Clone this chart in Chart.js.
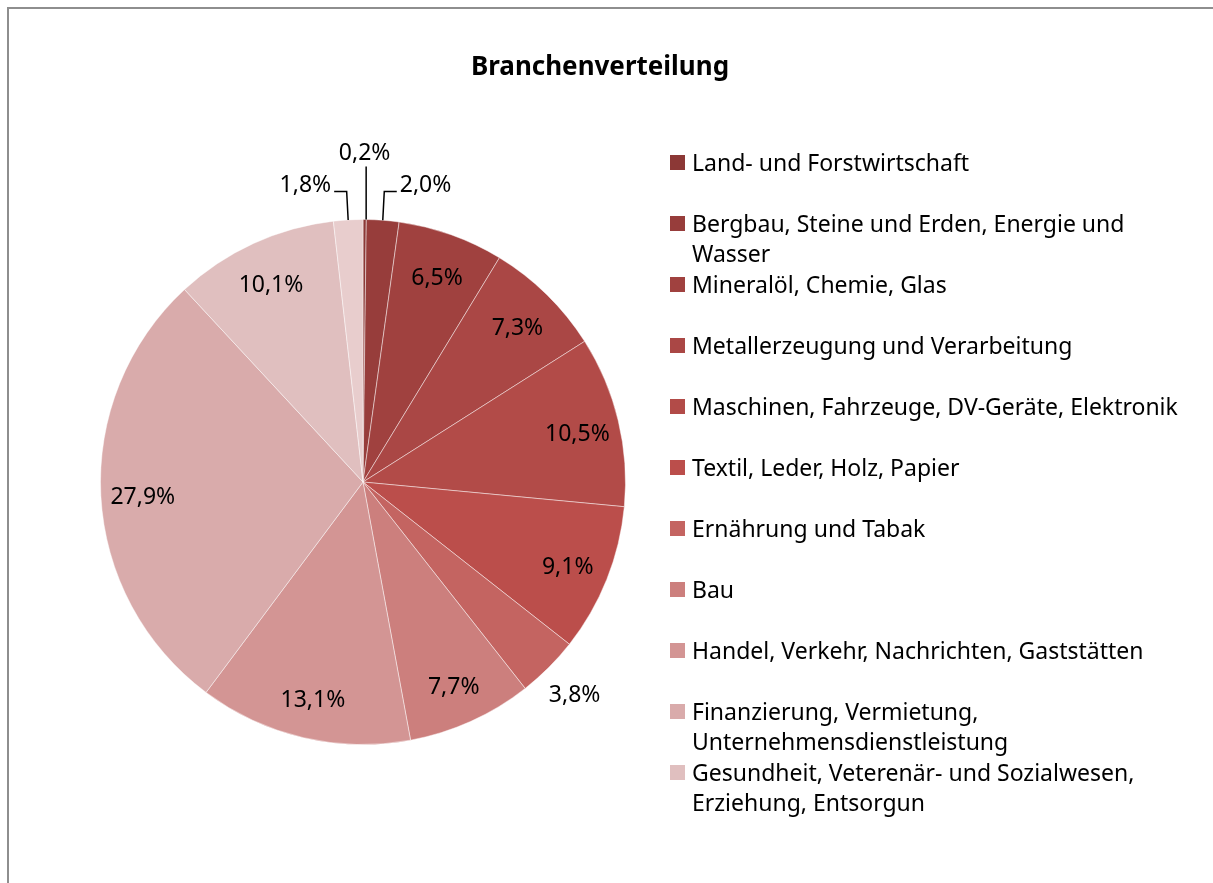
<!DOCTYPE html>
<html>
<head>
<meta charset="utf-8">
<script src="https://cdn.jsdelivr.net/npm/chart.js@4/dist/chart.umd.min.js"></script>
<style>
  html, body { margin: 0; padding: 0; background: #fff; }
  #wrap { position: relative; width: 1213px; height: 883px; overflow: hidden; }
  #frame { position: absolute; left: 7px; top: 7px; right: -10px; bottom: -10px;
           border-top: 2px solid #8e8e8e; border-left: 2px solid #8e8e8e; }
  #title { position: absolute; left: 0; width: 1200px; top: 47px; text-align: center;
           font-family: "Noto Sans", sans-serif; font-weight: bold; font-size: 26px; color: #000; line-height: 36px; }
  #legend { position: absolute; left: 670px; top: 147px; font-family: "Noto Sans", sans-serif;
            font-size: 23px; color: #000; }
  .item { position: relative; height: 61px; }
  .sw { position: absolute; left: 0; top: 8px; width: 15px; height: 15px; }
  .txt { position: absolute; left: 22px; top: 0; line-height: 30px; white-space: nowrap; }
  canvas { position: absolute; left: 0; top: 0; }
</style>
</head>
<body>
<div id="wrap">
  <canvas id="c" width="1213" height="883"></canvas>
  <div id="frame"></div>
  <div id="title"></div>
  <div id="legend"></div>
</div>
<script>
// ---- data ----
const chartTitle = "Branchenverteilung";
const categories = [
  "Land- und Forstwirtschaft",
  ["Bergbau, Steine und Erden, Energie und", "Wasser"],
  "Mineralöl, Chemie, Glas",
  "Metallerzeugung und Verarbeitung",
  "Maschinen, Fahrzeuge, DV-Geräte, Elektronik",
  "Textil, Leder, Holz, Papier",
  "Ernährung und Tabak",
  "Bau",
  "Handel, Verkehr, Nachrichten, Gaststätten",
  ["Finanzierung, Vermietung,", "Unternehmensdienstleistung"],
  ["Gesundheit, Veterenär- und Sozialwesen,", "Erziehung, Entsorgun"],
  "Sonstige"
];
const shares = [0.2, 2.0, 6.5, 7.3, 10.5, 9.1, 3.8, 7.7, 13.1, 27.9, 10.1, 1.8];
const sliceColors = ["#8c3836", "#973d3b", "#a0413f", "#aa4745", "#b24b48", "#bb4e4b",
                     "#c46461", "#cc7f7d", "#d39594", "#d9abab", "#e0bfbf", "#e8cdcd"];
const legendCount = 11; // the reference legend is cut off after 11 entries

// ---- title & legend (HTML) ----
document.getElementById('title').textContent = chartTitle;
const leg = document.getElementById('legend');
for (let i = 0; i < legendCount; i++) {
  const it = document.createElement('div'); it.className = 'item';
  const sw = document.createElement('div'); sw.className = 'sw'; sw.style.background = sliceColors[i];
  const tx = document.createElement('div'); tx.className = 'txt';
  const lines = Array.isArray(categories[i]) ? categories[i] : [categories[i]];
  lines.forEach((l, k) => { if (k) tx.appendChild(document.createElement('br')); tx.appendChild(document.createTextNode(l)); });
  it.appendChild(sw); it.appendChild(tx); leg.appendChild(it);
}

// ---- data labels plugin ----
const fmt = v => v.toFixed(1).replace('.', ',') + '%';
// label placement style per slice: 'in' (inside), 'out' (outside, no leader),
// 'up' (vertical leader), 'right'/'left' (elbow leader)
const labelMode = ['up', 'right', 'in', 'in', 'in', 'in', 'out', 'in', 'in', 'in', 'in', 'left'];
const labelPlugin = {
  id: 'pieLabels',
  afterDatasetsDraw(chart) {
    const ctx = chart.ctx;
    const meta = chart.getDatasetMeta(0);
    ctx.save();
    ctx.font = '23px "Noto Sans", sans-serif';
    ctx.fillStyle = '#000';
    ctx.strokeStyle = '#000';
    ctx.lineWidth = 1.5;
    ctx.textBaseline = 'middle';
    meta.data.forEach((arc, i) => {
      const {x, y, startAngle, endAngle, outerRadius: R} = arc.getProps(['x','y','startAngle','endAngle','outerRadius'], true);
      const mid = (startAngle + endAngle) / 2;
      const cs = Math.cos(mid), sn = Math.sin(mid);
      const txt = fmt(shares[i]);
      const mode = labelMode[i];
      if (mode === 'in') {
        ctx.textAlign = 'center';
        ctx.fillText(txt, x + cs * R * 0.84, y + sn * R * 0.84 + 4);
      } else if (mode === 'out') {
        ctx.textAlign = 'center';
        ctx.fillText(txt, x + cs * R * 1.14, y + sn * R * 1.14 + 2);
      } else if (mode === 'up') {
        const ex = x + cs * R, ey = y + sn * R;
        ctx.beginPath(); ctx.moveTo(ex + 1.5, ey); ctx.lineTo(ex + 1.5, y - R - 53); ctx.stroke();
        ctx.textAlign = 'center';
        ctx.fillText(txt, ex, y - R - 66);
      } else {
        const ex = x + cs * R, ey = y + sn * R;
        const dir = mode === 'right' ? 1 : -1;
        const ly = y - R - 28;
        ctx.beginPath(); ctx.moveTo(ex, ey); ctx.lineTo(ex + dir * 1.5, ly); ctx.lineTo(ex + dir * 14, ly); ctx.stroke();
        ctx.textAlign = dir > 0 ? 'left' : 'right';
        ctx.fillText(txt, ex + dir * 17, ly - 6);
      }
    });
    ctx.restore();
  }
};

new Chart(document.getElementById('c'), {
  type: 'pie',
  data: {
    labels: categories,
    datasets: [{
      data: shares,
      backgroundColor: sliceColors,
      borderColor: 'rgba(255,255,255,0.45)',
      borderWidth: 1
    }]
  },
  options: {
    responsive: false,
    devicePixelRatio: 1,
    animation: false,
    layout: { padding: { left: 100, right: 587, top: 219, bottom: 138 } },
    plugins: { legend: { display: false }, title: { display: false }, tooltip: { enabled: false } }
  },
  plugins: [labelPlugin]
});
</script>
</body>
</html>
